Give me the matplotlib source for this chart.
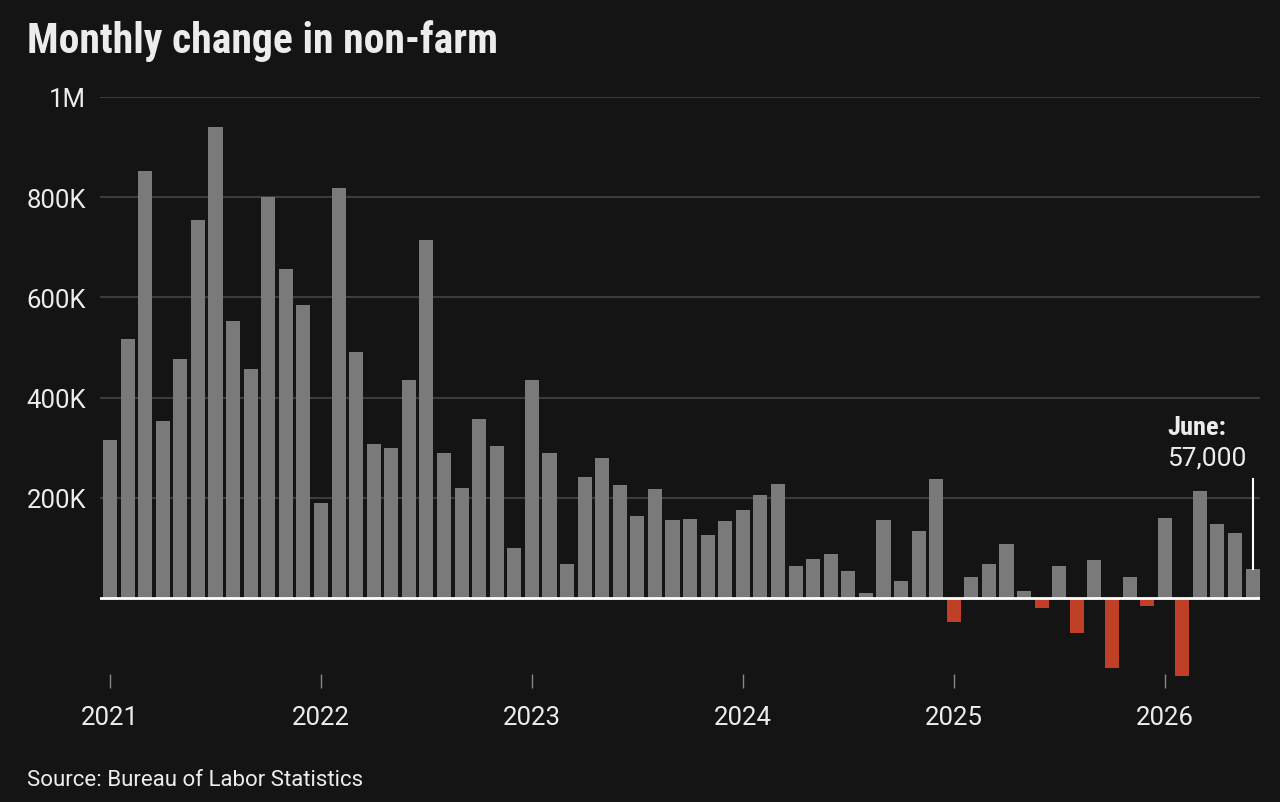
import matplotlib.pyplot as plt
import numpy as np

# monthly change in non-farm payrolls, thousands (Jan 2021 - Jun 2026)
values = [
    315, 517, 852, 354, 477, 754, 941, 552, 456, 800, 657, 585,   # 2021
    189, 818, 490, 307, 300, 434, 714, 290, 220, 357, 303, 100,   # 2022
    434, 290, 68, 241, 279, 225, 163, 218, 156, 158, 126, 154,    # 2023
    175, 206, 228, 64, 78, 87, 53, 9, 155, 33, 134, 237,          # 2024
    -49, 42, 68, 108, 13, -20, 64, -70, 76, -140, 41, -17,        # 2025
    160, -156, 214, 148, 129, 57,                                 # 2026
]
year_labels = ["2021", "2022", "2023", "2024", "2025", "2026"]
y_ticks = [200, 400, 600, 800, 1000]
y_tick_labels = ["200K", "400K", "600K", "800K", "1M"]

BG = "#141414"
GRAY = "#7a7a7a"
RED = "#bf4026"
TXT = "#ececec"
TITLE_FONT = "Roboto Condensed"
LABEL_FONT = "Roboto"

x = np.arange(len(values))
colors = [GRAY if v >= 0 else RED for v in values]

fig = plt.figure(figsize=(12.8, 8.03), dpi=100, facecolor=BG)
ax = fig.add_axes([100 / 1280, 1 - 682 / 803, 1160 / 1280, (682 - 98) / 803])
ax.set_facecolor(BG)

ax.bar(x, values, width=0.8, color=colors, zorder=2)
ax.set_xlim(-0.57, 65.42)
ax.set_ylim(-166, 1000)

for yt in y_ticks:
    ax.axhline(yt, color="#3c3c3c", lw=1.5, zorder=1)
ax.axhline(0, color="white", lw=2, zorder=3)

ax.set_yticks(y_ticks)
ax.set_yticklabels(y_tick_labels)
ax.tick_params(axis="y", length=0, pad=10, labelsize=18.5, labelcolor=TXT)
ax.set_xticks(np.arange(0, len(values), 12))
ax.set_xticklabels(year_labels)
ax.tick_params(axis="x", direction="inout", length=10, width=1, color="#888888",
               pad=12, labelsize=18.5, labelcolor=TXT)
for lab in ax.get_xticklabels() + ax.get_yticklabels():
    lab.set_fontfamily(LABEL_FONT)
for s in ax.spines.values():
    s.set_visible(False)

# June annotation
last = len(values) - 1
ax.plot([last, last], [values[last], 237], color="white", lw=1.5, zorder=4)
ax.text(last - 4.85, 342, "June:", fontsize=19, fontweight="bold", color=TXT,
        family=TITLE_FONT, ha="left", va="center")
ax.text(last - 4.85, 280, "57,000", fontsize=19, color=TXT,
        family=LABEL_FONT, ha="left", va="center")

fig.text(27 / 1280, 1 - 41 / 803, "Monthly change in non-farm", fontsize=30,
         fontweight="bold", color=TXT, family=TITLE_FONT, ha="left", va="center")
fig.text(27 / 1280, 1 - 781 / 803, "Source: Bureau of Labor Statistics", fontsize=16,
         color=TXT, family=LABEL_FONT, ha="left", va="center")

fig.savefig("out.png", dpi=100, facecolor=BG)
